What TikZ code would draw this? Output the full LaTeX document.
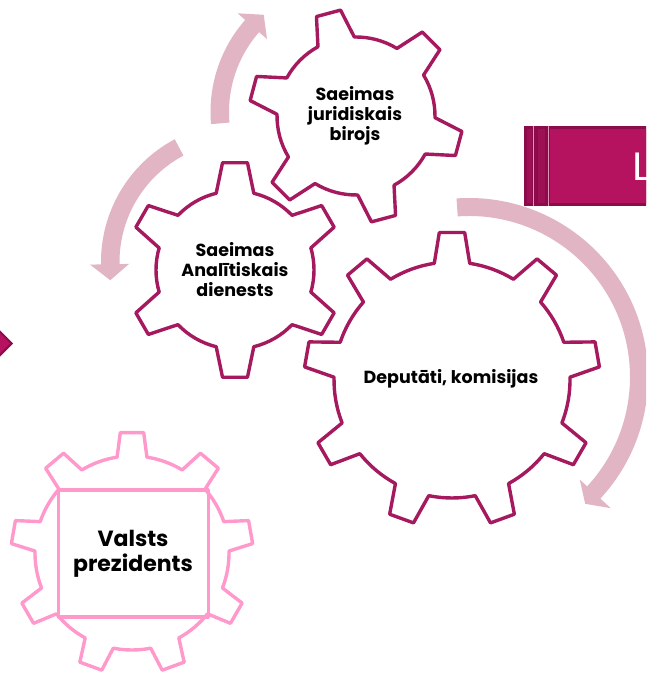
\documentclass[tikz,border=0pt]{standalone}
\usepackage{fontspec}
\setmainfont{Poppins}
\newfontfamily\lfont{Liberation Sans}
\definecolor{gearc}{RGB}{165,25,95}
\definecolor{pinkc}{RGB}{255,153,204}
\definecolor{arrc}{RGB}{226,181,196}
\definecolor{boxc}{RGB}{181,18,96}
\definecolor{boxd}{RGB}{140,12,75}
\definecolor{boxm}{RGB}{158,16,84}
\definecolor{boxl}{RGB}{222,150,185}
\tikzset{
 gearline/.style={draw=gearc, line width=3.4pt, line join=round, fill=white},
 pinkline/.style={draw=pinkc, line width=3.4pt, line join=round},
 arrowband/.style={fill=arrc},
 gtext/.style={font=\bfseries\fontsize{17.5}{20}\selectfont, align=center, text=black, inner sep=0pt},
 ptext/.style={font=\bfseries\fontsize{22}{25}\selectfont, align=center, text=black, inner sep=0pt},
}
% #1 style, #2 centre, #3 R, #4 r, #5 n, #6 phase, #7 tip half width, #8 base half width
\newcommand{\mygear}[8]{%
 \begin{scope}[shift={#2}]
  \pgfmathsetmacro{\ga}{deg(#7/#3)}
  \pgfmathsetmacro{\gb}{deg(#8/#4)}
  \pgfmathsetmacro{\gs}{360/#5}
  \draw[#1] (#6-\gb:#4)
   \foreach [evaluate=\k as \t using #6+(\k-1)*\gs] \k in {1,...,#5}{
     -- (\t-\gb:#4) -- (\t-\ga:#3) -- (\t+\ga:#3) -- (\t+\gb:#4)
     arc[start angle=\t+\gb, end angle=\t+\gs-\gb, radius=#4]
   } -- cycle;
 \end{scope}}
% #1 centre, #2 ri, #3 ro, #4 a0, #5 a1, #6 head inner r, #7 head outer r, #8 tip angle, #9 tip r
\newcommand{\myarrow}[9]{%
 \begin{scope}[shift={#1}]
  \fill[arrowband] (#4:#2) arc[start angle=#4, end angle=#5, radius=#2]
   -- (#5:#6) -- (#8:#9) -- (#5:#7) -- (#5:#3)
   arc[start angle=#5, end angle=#4, radius=#3] -- cycle;
 \end{scope}}
\begin{document}
\begin{tikzpicture}[x=1pt,y=1pt]
\useasboundingbox (0,0) rectangle (646,676);
\clip (0,0) rectangle (646,676);
\fill[white] (0,0) rectangle (646,676);
% circular arrows
\myarrow{(350,564)}{121}{139.5}{185}{138.7}{110.5}{149.5}{131.6}{130}
\myarrow{(240,414)}{120.5}{139}{118}{181}{111}{150}{188}{131}
\myarrow{(469,299)}{161}{179}{94}{-42.8}{151}{193}{-47.5}{172}
% gears
\mygear{gearline}{(235,406)}{108}{79}{6}{90}{12.5}{19}
\mygear{gearline}{(356,560)}{107}{79}{6}{45}{12.5}{19}
\mygear{gearline}{(452,296)}{148}{118}{9}{90}{12.7}{17.8}
\mygear{pinkline}{(132,123)}{121}{97}{9}{90}{11.7}{15}
\draw[pinkline] (58.3,59) rectangle (208.3,186);
% box at upper right
\fill[boxd] (524,470) rectangle (650,550);
\fill[boxm] (527,473) rectangle (531.5,547);
\fill[boxm] (538,473) rectangle (545,547);
\fill[boxc] (549.5,473.3) rectangle (650,546.5);
\draw[boxl, line width=1.2pt] (533.6,470) -- (533.6,550);
\draw[boxl, line width=1.2pt] (548.6,470) -- (548.6,550);
\node[anchor=base west, inner sep=0pt, text=white, font=\lfont\fontsize{40}{40}\selectfont] (ltr) at (631.8,495.3) {L};
% diamond at left edge
\filldraw[fill=boxc, draw=boxd, line width=2pt] (0,344.3) -- (11.7,332.6) -- (0,320.9) -- (-11.7,332.6) -- cycle;
% texts
\node[gtext] (g1t) at (235,406) {Saeimas\\Analītiskais\\dienests};
\node[gtext] (g2t) at (355,560) {Saeimas\\juridiskais\\birojs};
\node[gtext] (g3t) at (451,297) {Deputāti, komisijas};
\node[ptext] (g4t) at (133,122) {Valsts\\prezidents};
\end{tikzpicture}
\end{document}
